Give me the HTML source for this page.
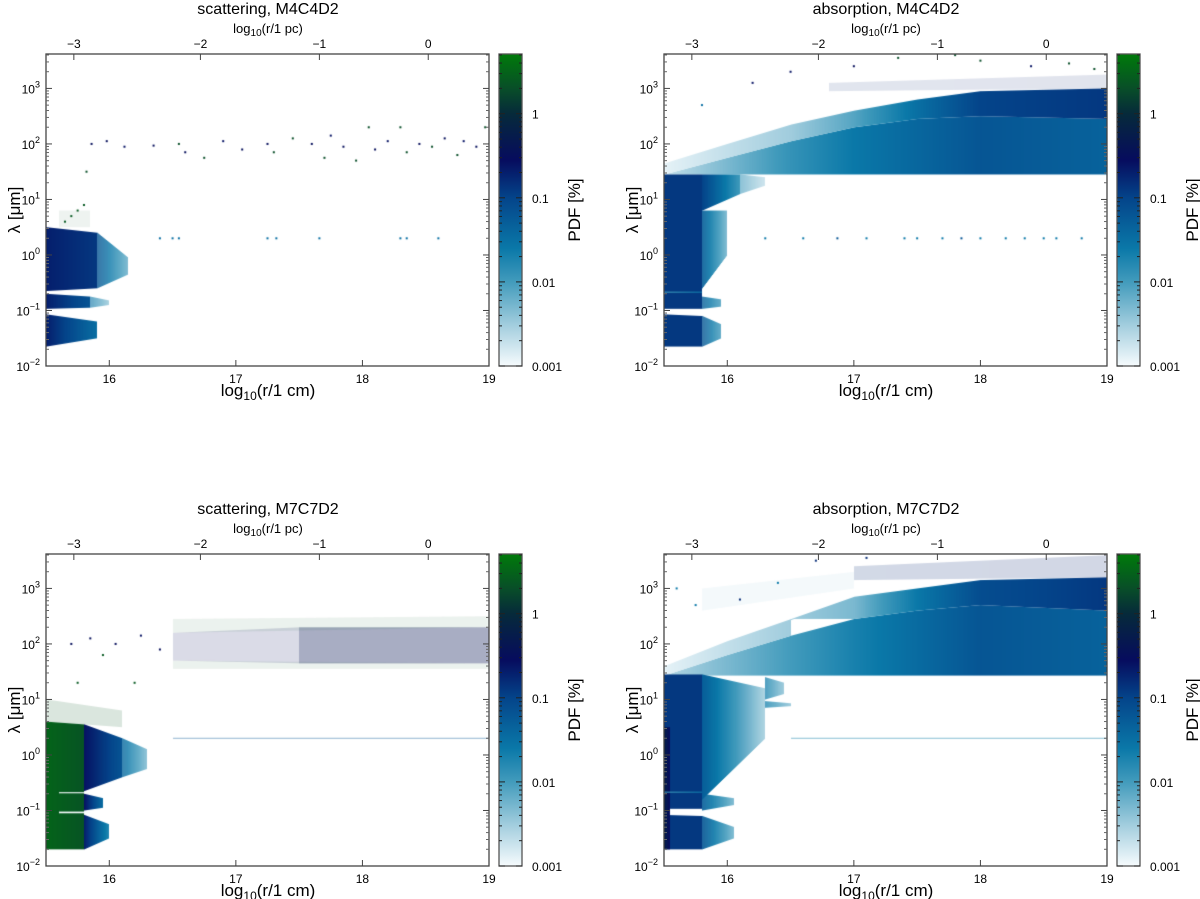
<!DOCTYPE html>
<html><head><meta charset="utf-8">
<style>
html,body{margin:0;padding:0;background:#fff;}
#wrap{position:relative;width:1200px;height:899px;overflow:hidden;font-family:"Liberation Sans",sans-serif;}
canvas{position:absolute;}
svg{position:absolute;left:0;top:0;}
</style></head>
<body>
<div id="wrap">
<canvas id="c0" width="443" height="312" style="left:46px;top:54px"></canvas>
<canvas id="c1" width="443" height="312" style="left:664px;top:54px"></canvas>
<canvas id="c2" width="443" height="312" style="left:46px;top:554px"></canvas>
<canvas id="c3" width="443" height="312" style="left:664px;top:554px"></canvas>
<svg id="ov" width="1200" height="899"></svg>
</div>
<script>
// ---- data ----
const panelTitles = ["scattering, M4C4D2","absorption, M4C4D2","scattering, M7C7D2","absorption, M7C7D2"];
const xTicks = [16,17,18,19];
const xTickLabels = ["16","17","18","19"];
const pcTicks = [15.72,16.72,17.66,18.52];
const pcTickLabels = ["\u22123","\u22122","\u22121","0"];
const yTicks = [-2,-1,0,1,2,3];
const yTickLabels = ["\u22122","\u22121","0","1","2","3"];
const cbTicks = [-3,-2,-1,0];
const cbTickLabels = ["0.001","0.01","0.1","1"];
// regions: [x0,x1, lo0,hi0, lo1,hi1, p0,p1, alpha]  (log10 r, log10 lambda, log10 PDF)
const regionsA = [
 [15.5,15.9,-0.65,0.5,-0.6,0.4,-0.7,-0.9,1],
 [15.9,16.15,-0.6,0.4,-0.35,-0.05,-1.2,-2.2,0.8],
 [15.5,15.85,-0.97,-0.7,-0.95,-0.75,-0.7,-1.2,1],
 [15.85,16.0,-0.95,-0.75,-0.9,-0.82,-1.5,-2.3,0.6],
 [15.5,15.9,-1.65,-1.07,-1.5,-1.2,-0.7,-1.5,1],
 [15.6,15.85,0.5,0.8,0.5,0.8,0.3,0.3,0.07]
];
const regionsB = [
 [15.5,16.0,1.45,1.45,1.45,1.75,-2.7,-2.3,1],
 [15.5,16.0,1.45,1.65,1.75,2.0,-2.9,-2.7,1],
 [16.0,16.5,1.45,1.75,1.45,2.05,-2.3,-1.9,1],
 [16.0,16.5,1.75,2.0,2.05,2.35,-2.7,-2.5,1],
 [16.5,17.0,1.45,2.05,1.45,2.3,-1.9,-1.6,1],
 [16.5,17.0,2.05,2.35,2.3,2.6,-2.5,-2.1,1],
 [17.0,17.5,1.45,2.3,1.45,2.45,-1.6,-1.4,1],
 [17.0,17.5,2.3,2.6,2.45,2.8,-2.1,-1.5,1],
 [17.5,18.0,1.45,2.45,1.45,2.5,-1.4,-1.2,1],
 [17.5,18.0,2.45,2.8,2.5,2.95,-1.5,-1.0,1],
 [18.0,19.0,1.45,2.5,1.45,2.45,-1.2,-1.35,1],
 [18.0,19.0,2.5,2.95,2.45,3.0,-1.0,-0.9,1],
 [16.8,19.0,2.95,3.1,3.0,3.25,-0.8,-0.7,0.12],
 [15.5,15.8,-0.97,1.45,-0.97,1.45,-0.9,-0.9,1],
 [15.5,15.8,-1.65,-1.07,-1.65,-1.1,-0.9,-0.9,1],
 [15.8,16.1,0.8,1.45,1.1,1.45,-1.0,-2.0,1],
 [16.1,16.3,1.1,1.45,1.25,1.4,-2.0,-2.6,0.6],
 [15.8,16.0,-0.6,0.8,0.0,0.8,-1.3,-2.3,0.9],
 [15.8,15.95,-0.97,-0.75,-0.93,-0.8,-1.3,-2.0,0.8],
 [15.8,15.95,-1.65,-1.1,-1.5,-1.25,-1.2,-2.0,0.8],
 [15.5,15.8,-0.68,-0.66,-0.68,-0.66,-2.0,-1.6,1]
];
const regionsC = [
 [15.5,15.8,-1.7,0.6,-1.7,0.55,0.5,0.35,1],
 [15.8,16.1,-0.65,0.55,-0.4,0.3,-0.6,-1.2,1],
 [16.1,16.3,-0.4,0.3,-0.25,0.1,-1.4,-2.3,0.8],
 [15.8,15.95,-1.0,-0.7,-0.95,-0.78,-0.6,-1.5,1],
 [15.8,16.0,-1.7,-1.08,-1.5,-1.25,-0.7,-1.8,1],
 [15.6,15.85,-0.69,-0.67,-0.69,-0.67,-3,-3,1],
 [15.6,15.85,-1.05,-1.02,-1.05,-1.02,-3,-3,1],
 [15.5,16.1,0.6,1.0,0.5,0.8,0.4,0.4,0.15],
 [16.5,17.5,1.7,2.2,1.65,2.3,-0.5,-0.5,0.15],
 [17.5,19.0,1.65,2.3,1.65,2.3,-0.4,-0.4,0.35],
 [16.5,19.0,2.2,2.45,2.3,2.5,0.4,0.4,0.08],
 [16.5,19.0,1.55,1.7,1.55,1.65,0.4,0.4,0.08],
 [16.5,19.0,0.29,0.31,0.29,0.31,-1.2,-1.2,0.4]
];
const regionsD = [
 [15.5,16.0,1.43,1.43,1.43,1.8,-2.6,-2.3,1],
 [15.5,16.0,1.43,1.6,1.8,2.05,-2.9,-2.7,1],
 [16.0,16.5,1.43,1.8,1.43,2.15,-2.3,-2.0,1],
 [16.0,16.5,1.8,2.05,2.15,2.45,-2.7,-2.5,1],
 [16.5,17.0,1.43,2.15,1.43,2.45,-2.0,-1.7,1],
 [16.5,17.0,2.45,2.45,2.45,2.85,-2.5,-2.3,1],
 [17.0,17.5,1.43,2.45,1.43,2.6,-1.7,-1.45,1],
 [17.0,17.5,2.45,2.85,2.6,3.0,-2.3,-1.6,1],
 [17.5,18.0,1.43,2.6,1.43,2.7,-1.45,-1.2,1],
 [17.5,18.0,2.6,3.0,2.7,3.15,-1.6,-1.1,1],
 [18.0,19.0,1.43,2.7,1.43,2.6,-1.2,-1.35,1],
 [18.0,19.0,2.7,3.15,2.6,3.2,-1.1,-0.9,1],
 [17.0,19.0,3.15,3.4,3.2,3.6,-0.8,-0.7,0.18],
 [15.8,17.0,2.6,3.0,3.0,3.3,-1.8,-1.8,0.05],
 [15.5,15.8,-0.97,1.45,-0.97,1.45,-0.9,-0.9,1],
 [15.5,15.8,-1.7,-1.08,-1.7,-1.1,-0.9,-0.9,1],
 [15.5,15.55,-1.7,0.5,-1.7,0.5,-0.2,-0.6,1],
 [15.8,16.3,-0.8,1.45,0.3,1.2,-1.3,-2.6,1],
 [16.3,16.45,1.0,1.4,1.1,1.3,-1.8,-2.4,0.8],
 [16.3,16.5,0.85,0.97,0.88,0.93,-1.8,-2.4,0.8],
 [15.8,16.05,-1.0,-0.7,-0.9,-0.78,-1.3,-2.3,0.9],
 [15.8,16.05,-1.7,-1.1,-1.5,-1.3,-1.2,-2.3,0.9],
 [15.5,15.8,-0.68,-0.66,-0.68,-0.66,-2.0,-1.6,1],
 [16.5,19.0,0.29,0.31,0.29,0.31,-1.8,-1.8,0.5]
];
// scattered points: [log10 r, log10 lambda, log10 PDF]
const pointsA = [
 [15.86,2.0,-0.5],[15.98,2.05,-0.5],[16.12,1.95,-0.6],[16.35,1.97,-0.5],[16.55,2.0,0.3],[16.6,1.85,-0.5],
 [16.75,1.75,0.3],[16.9,2.05,-0.6],[17.05,1.9,-0.5],[17.25,2.0,-0.5],[17.3,1.85,0.3],[17.45,2.1,0.3],
 [17.6,2.0,-0.5],[17.7,1.75,0.3],[17.75,2.15,-0.6],[17.85,1.95,-0.5],[17.95,1.7,0.3],[18.05,2.3,0.3],
 [18.1,1.9,-0.5],[18.2,2.05,-0.6],[18.3,2.3,0.3],[18.35,1.85,0.3],[18.45,2.0,-0.5],[18.55,1.95,0.3],
 [18.65,2.1,-0.5],[18.75,1.8,0.3],[18.8,2.05,-0.6],[18.9,1.95,-0.5],[18.97,2.3,0.3],[15.82,1.5,0.3],
 [15.75,0.8,0.4],[15.7,0.7,0.4],[15.8,0.9,0.4],[15.65,0.6,0.4],
 [16.4,0.3,-1.5],[16.5,0.3,-1.5],[16.55,0.3,-1.5],[17.25,0.3,-1.5],[17.32,0.3,-1.5],[17.66,0.3,-1.5],[18.3,0.3,-1.5],[18.35,0.3,-1.5],[18.6,0.3,-1.5]
];
const pointsB = [
 [16.3,0.3,-1.6],[16.6,0.3,-1.6],[16.87,0.3,-1.2],[17.1,0.3,-1.6],[17.4,0.3,-1.6],[17.5,0.3,-1.6],[17.7,0.3,-1.6],
 [17.85,0.3,-1.2],[18.0,0.3,-1.6],[18.2,0.3,-1.6],[18.35,0.3,-1.6],[18.5,0.3,-1.6],[18.6,0.3,-1.6],[18.8,0.3,-1.6],
 [16.2,3.1,-0.6],[16.5,3.3,-0.6],[17.0,3.4,-0.5],[17.35,3.55,0.3],[17.8,3.6,0.3],[18.0,3.5,0.3],[18.4,3.4,-0.6],[18.7,3.45,0.3],[18.9,3.35,0.3],[15.8,2.7,-1.5]
];
const pointsC = [
 [15.7,2.0,-0.5],[15.85,2.1,-0.5],[15.95,1.8,0.4],[16.05,2.0,-0.5],[16.25,2.15,-0.6],[16.4,1.9,-0.5],[15.75,1.3,0.4],[16.2,1.3,0.4]
];
const pointsD = [
 [15.6,3.0,-1.6],[15.75,2.7,-1.6],[16.1,2.8,-0.8],[16.4,3.1,-1.6],[16.7,3.5,-0.8],[17.1,3.55,-0.8]
];
// ---- scales ----
const X0=46, Y0=54, W=443, H=312;
const xDom=[15.5,19], yDom=[-2,3.62], pDom=[-3,0.71];
function xs(v){return (v-xDom[0])/(xDom[1]-xDom[0])*W;}
function ys(v){return H-(v-yDom[0])/(yDom[1]-yDom[0])*H;}
const cmap=[[-3,[246,251,253]],[-2.5,[160,204,221]],[-2,[66,155,188]],[-1.6,[10,120,168]],[-1.0,[4,68,138]],[-0.55,[6,12,94]],[0,[6,42,58]],[0.3,[8,78,40]],[0.71,[0,122,10]]];
function color(p){
  if(p<=cmap[0][0]) return 'rgb('+cmap[0][1].join(',')+')';
  for(let i=1;i<cmap.length;i++){
    if(p<=cmap[i][0]){const a=cmap[i-1],b=cmap[i];const t=(p-a[0])/(b[0]-a[0]);
      return 'rgb('+[0,1,2].map(k=>Math.round(a[1][k]+(b[1][k]-a[1][k])*t)).join(',')+')';}
  }
  return 'rgb('+cmap[cmap.length-1][1].join(',')+')';
}
function drawPanel(id,regions,points){
  const ctx=document.getElementById(id).getContext('2d');
  regions.forEach(r=>{
    const a=Math.round(xs(r[0])), b=Math.round(xs(r[1]));
    ctx.globalAlpha=r[8];
    for(let px=a;px<b;px++){
      const t=(px-a)/Math.max(1,b-a);
      const lo=r[2]+(r[4]-r[2])*t, hi=r[3]+(r[5]-r[3])*t, p=r[6]+(r[7]-r[6])*t;
      ctx.fillStyle=color(p);
      const y1=ys(hi), y2=ys(lo);
      ctx.fillRect(px,y1,1,Math.max(1,y2-y1));
    }
  });
  ctx.globalAlpha=1;
  points.forEach(q=>{ctx.fillStyle=color(q[2]);ctx.fillRect(xs(q[0])-1,ys(q[1])-1,2,2);});
}
drawPanel('c0',regionsA,pointsA);
drawPanel('c1',regionsB,pointsB);
drawPanel('c2',regionsC,pointsC);
drawPanel('c3',regionsD,pointsD);
// ---- axes ----
const NS='http://www.w3.org/2000/svg';
const ov=document.getElementById('ov');
function el(tag,attrs,parent,txt){const e=document.createElementNS(NS,tag);for(const k in attrs)e.setAttribute(k,attrs[k]);if(txt!==undefined)e.textContent=txt;(parent||ov).appendChild(e);return e;}
const defs=el('defs',{});
const grad=el('linearGradient',{id:'cbg',x1:'0',y1:'1',x2:'0',y2:'0'},defs);
cmap.forEach(s=>{el('stop',{offset:((s[0]-pDom[0])/(pDom[1]-pDom[0])).toFixed(4),'stop-color':color(s[0])},grad);});
const offs=[[0,0],[618,0],[0,500],[618,500]];
offs.forEach((o,i)=>{
  const g=el('g',{transform:'translate('+o[0]+','+o[1]+')'});
  
  
  const f='font-family:"Liberation Sans",sans-serif;fill:#000';
  const t=el('text',{x:268,y:14,'text-anchor':'middle','font-size':16,style:f},g,panelTitles[i]);
  
  const pc=el('text',{x:268,y:33,'text-anchor':'middle','font-size':13,style:f},g);
  
  el('tspan',{},pc,'log');el('tspan',{'font-size':10,dy:3},pc,'10');el('tspan',{dy:-3},pc,'(r/1 pc)');
  const xl=el('text',{x:268,y:396,'text-anchor':'middle','font-size':17,style:f},g);
  
  el('tspan',{},xl,'log');el('tspan',{'font-size':12,dy:4},xl,'10');el('tspan',{dy:-4},xl,'(r/1 cm)');
  const yl=el('text',{x:0,y:0,'text-anchor':'middle','font-size':17,style:f,transform:'translate(20,210) rotate(-90)'},g,'\u03bb [\u03bcm]');
  
  const cl=el('text',{x:0,y:0,'text-anchor':'middle','font-size':17,style:f,transform:'translate(580,210) rotate(-90)'},g,'PDF [%]');
  
  const fr=el('rect',{x:X0,y:Y0,width:W,height:H,fill:'none',stroke:'#444','stroke-width':1.3},g);
  
  xTicks.forEach((v,k)=>{
    const x=X0+xs(v);
    el('line',{x1:x,y1:Y0+H,x2:x,y2:Y0+H-6,stroke:'#444'},g);
    const tl=el('text',{x:x,y:383,'text-anchor':'middle','font-size':12,style:f},g,xTickLabels[k]);
    
  });
  pcTicks.forEach((v,k)=>{
    const x=X0+xs(v);
    el('line',{x1:x,y1:Y0,x2:x,y2:Y0+6,stroke:'#444'},g);
    const tl=el('text',{x:x,y:48,'text-anchor':'middle','font-size':12,style:f},g,pcTickLabels[k]);
    
  });
  yTicks.forEach((v,k)=>{
    const y=Y0+ys(v);
    el('line',{x1:X0,y1:y,x2:X0+6,y2:y,stroke:'#444'},g);
    el('line',{x1:X0+W,y1:y,x2:X0+W-6,y2:y,stroke:'#444'},g);
    for(let m=2;m<10;m++){const yy=Y0+ys(v+Math.log10(m));if(yy>Y0){el('line',{x1:X0,y1:yy,x2:X0+3,y2:yy,stroke:'#666'},g);el('line',{x1:X0+W,y1:yy,x2:X0+W-3,y2:yy,stroke:'#666'},g);}}
    const tl=el('text',{x:40,y:y+5,'text-anchor':'end','font-size':12,style:f},g);
    
    el('tspan',{},tl,'10');el('tspan',{'font-size':9,dy:-6},tl,yTickLabels[k]);
  });
  const cb=el('rect',{x:499,y:Y0,width:23,height:H,fill:'url(#cbg)',stroke:'#555','stroke-width':1.3},g);
  
  const cy=v=>Y0+H-(v-pDom[0])/(pDom[1]-pDom[0])*H;
  cbTicks.forEach((v,k)=>{
    const y=cy(v);
    el('line',{x1:499,y1:y,x2:505,y2:y,stroke:'#222'},g);el('line',{x1:522,y1:y,x2:516,y2:y,stroke:'#222'},g);
    for(let m=2;m<10;m++){const yy=cy(v+Math.log10(m));if(yy>Y0){el('line',{x1:499,y1:yy,x2:502,y2:yy,stroke:'#222'},g);el('line',{x1:522,y1:yy,x2:519,y2:yy,stroke:'#222'},g);}}
    const tl=el('text',{x:532,y:y+5,'font-size':12,style:f},g,cbTickLabels[k]);
    
  });
});
</script>
</body></html>
